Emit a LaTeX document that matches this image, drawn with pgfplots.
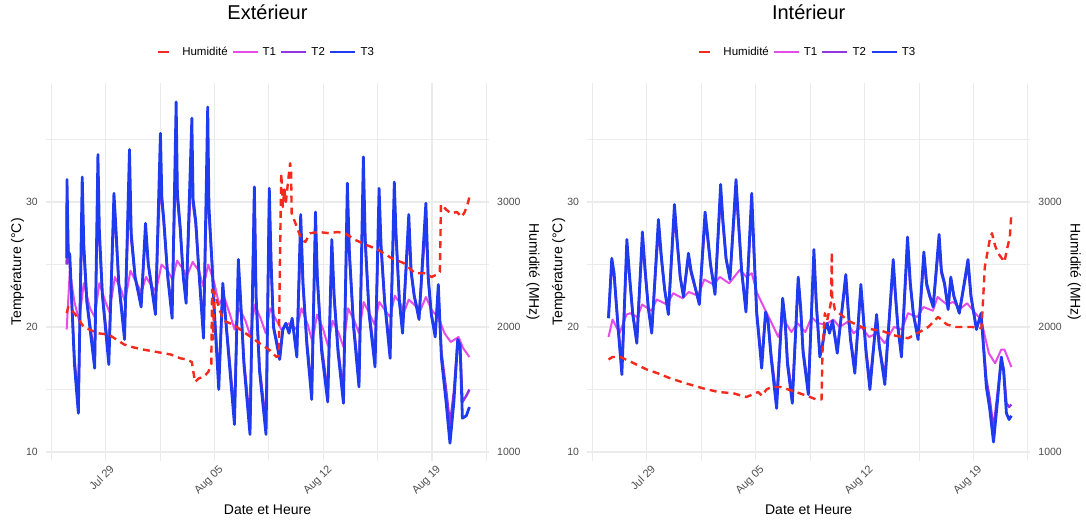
\documentclass[border=0pt]{standalone}
\usepackage{fontspec}
\setmainfont{Liberation Sans}
\usepackage{pgfplots}
\usepackage{pgfplotstable}
\pgfplotsset{compat=1.18}

\definecolor{hum}{HTML}{F42A1C}
\definecolor{tone}{HTML}{E64CE8}
\definecolor{ttwo}{HTML}{9234E0}
\definecolor{tthree}{HTML}{1F3BF0}
\definecolor{gridc}{HTML}{EBEBEB}
\definecolor{tickc}{HTML}{4D4D4D}

% ---- Extérieur ----
\pgfplotstableread{
d t
-2.5 19.8
-2.3 24.5
-2.0 22.0
-1.7 20.5
-1.4 23.5
-1.0 21.5
-0.7 20.8
-0.4 23.5
0.0 22.0
0.25 21.2
0.6 24.0
1.0 23.0
1.25 22.0
1.6 24.5
2.0 23.5
2.3 22.8
2.6 24.0
3.0 23.2
3.25 22.9
3.6 25.0
4.0 24.5
4.3 23.8
4.6 25.3
5.0 24.6
5.2 24.0
5.6 25.2
6.0 24.5
6.3 23.2
6.6 25.0
7.0 23.5
7.3 21.8
7.6 22.5
8.0 21.0
8.3 19.8
8.6 21.5
9.0 20.5
9.3 19.3
9.6 21.8
10.0 20.6
10.3 19.5
10.6 21.5
11.0 20.5
11.3 19.8
11.8 20.3
12.3 19.8
12.6 21.5
13.0 20.2
13.3 18.8
13.6 21.0
14.0 19.8
14.3 18.5
14.6 20.5
15.0 19.5
15.3 18.4
15.6 21.5
16.0 20.5
16.3 19.5
16.6 22.0
17.0 21.0
17.3 20.2
17.6 22.0
18.0 21.3
18.3 20.8
18.6 22.5
19.0 21.8
19.2 21.2
19.5 22.2
20.0 21.6
20.2 21.2
20.6 22.4
21.0 21.3
21.4 20.8
21.8 19.5
22.2 18.8
22.7 19.2
23.0 18.3
23.4 17.6
}\extA

\pgfplotstableread{
d t
-2.5 25.0
-2.48 30.5
-2.4 25.5
-2.3 25.0
-2.0 17.5
-1.75 14.0
-1.5 30.0
-1.4 26.0
-1.2 22.0
-0.7 17.5
-0.49 31.5
-0.4 27.0
-0.2 22.5
0.21 17.8
0.54 29.5
0.65 27.8
0.85 23.5
1.22 19.6
1.54 32.0
1.65 27.0
1.9 24.0
2.29 22.0
2.57 27.5
2.75 25.0
3.21 21.5
3.53 33.0
3.62 30.0
3.75 28.2
4.0 24.0
4.28 21.3
4.54 35.0
4.62 30.2
4.8 27.8
5.0 24.0
5.18 22.4
5.55 34.0
5.63 29.8
5.8 28.2
6.0 24.5
6.3 19.8
6.57 34.5
6.65 29.0
6.85 25.0
7.0 21.3
7.28 15.8
7.54 23.0
7.7 21.0
8.0 17.0
8.29 13.0
8.54 24.5
8.65 22.8
8.9 17.3
9.29 12.3
9.57 30.8
9.68 22.5
9.9 16.8
10.32 12.3
10.53 30.0
10.65 25.0
10.8 20.0
11.2 17.8
11.4 19.8
11.6 20.2
11.8 19.6
12.0 20.5
12.3 18.0
12.55 27.5
12.7 23.2
12.95 18.8
13.26 15.0
13.5 27.8
13.62 23.8
13.9 18.4
14.29 14.8
14.55 26.0
14.7 22.3
14.95 18.3
15.3 14.7
15.55 30.0
15.68 25.8
15.95 20.2
16.3 16.0
16.58 31.5
16.7 26.6
16.95 21.2
17.33 17.5
17.59 29.5
17.72 26.2
17.95 22.0
18.3 18.2
18.57 30.0
18.68 27.2
18.9 22.0
19.1 19.9
19.5 28.0
19.65 24.3
19.85 22.5
20.16 20.9
20.6 28.5
20.75 23.8
20.95 21.0
21.2 19.5
21.4 22.8
21.6 18.0
21.9 15.0
22.15 12.2
22.4 14.8
22.65 19.0
22.8 18.6
22.95 14.0
23.2 14.5
23.4 15.0
}\extB

\pgfplotstableread{
d t
-2.5 25.5
-2.48 31.8
-2.4 26.0
-2.3 25.8
-2.0 17.0
-1.75 13.1
-1.5 32.0
-1.4 26.6
-1.2 22.0
-0.7 16.7
-0.49 33.8
-0.4 27.8
-0.2 22.5
0.21 17.0
0.54 30.7
0.65 28.3
0.85 23.5
1.22 19.0
1.54 34.2
1.65 27.5
1.9 24.0
2.29 21.6
2.57 28.3
2.75 25.0
3.21 21.0
3.53 35.5
3.62 30.4
3.75 28.5
4.0 24.0
4.28 20.7
4.54 38.0
4.62 30.7
4.8 28.0
5.0 24.0
5.18 21.9
5.55 36.7
5.63 30.2
5.8 28.5
6.0 24.5
6.3 19.1
6.57 37.6
6.65 29.6
6.85 25.0
7.0 21.1
7.28 15.0
7.54 23.5
7.7 21.0
8.0 16.5
8.29 12.2
8.54 25.4
8.65 23.0
8.9 17.0
9.29 11.4
9.57 31.2
9.68 22.4
9.9 16.5
10.32 11.4
10.53 31.1
10.65 25.0
10.8 20.0
11.2 17.4
11.4 19.8
11.6 20.3
11.8 19.5
12.0 20.7
12.3 17.6
12.55 29.0
12.7 23.5
12.95 18.5
13.26 14.2
13.5 29.2
13.62 24.0
13.9 18.0
14.29 14.0
14.55 27.0
14.7 22.5
14.95 18.0
15.3 13.9
15.55 31.5
15.68 26.0
15.95 20.0
16.3 15.2
16.58 33.6
16.7 27.0
16.95 21.0
17.33 16.8
17.59 31.1
17.72 26.5
17.95 22.0
18.3 17.5
18.57 31.6
18.68 27.5
18.9 22.0
19.1 19.5
19.5 29.0
19.65 24.5
19.85 22.5
20.16 20.6
20.6 29.9
20.75 24.0
20.95 21.0
21.2 19.2
21.4 23.4
21.6 17.5
21.9 14.0
22.15 10.7
22.4 14.0
22.65 19.0
22.8 18.5
22.95 12.7
23.2 12.9
23.4 13.6
}\extC

\pgfplotstableread{
d h
-2.5 2110
-2.4 2160
-2.0 2110
-1.4 2000
-0.5 1950
0.2 1940
1.2 1860
1.7 1840
2.4 1820
3.3 1800
4.2 1780
4.8 1750
5.2 1740
5.55 1720
5.7 1600
5.75 1560
6.0 1590
6.3 1600
6.6 1640
6.8 1700
6.85 2300
6.9 1900
7.0 2280
7.3 2150
7.6 2050
8.2 2020
9.0 1950
9.9 1870
10.5 1820
11.0 1760
11.15 1770
11.2 2400
11.3 3230
11.4 2960
11.5 3100
11.6 3000
11.75 3180
11.87 3310
11.93 3250
11.97 2910
12.3 2800
12.6 2700
12.85 2680
13.15 2750
13.7 2760
14.4 2750
14.9 2760
15.4 2750
16.0 2700
16.7 2660
17.5 2620
18.4 2550
19.2 2510
19.9 2430
20.5 2430
20.97 2400
21.3 2420
21.5 2440
21.57 2980
21.9 2940
22.2 2910
22.6 2920
22.9 2880
23.1 2920
23.3 2990
23.4 3040
}\extH

% ---- Intérieur ----
\pgfplotstableread{
d t
-2.46 19.2
-2.2 20.6
-1.75 19.5
-1.3 21.0
-1.07 21.1
-0.6 20.8
-0.3 21.8
0.3 21.3
0.64 22.2
1.3 21.8
1.7 22.7
2.3 22.3
2.7 22.8
3.3 22.5
3.7 23.8
4.3 23.4
4.7 24.0
5.3 23.5
6.0 24.6
6.4 24.0
6.75 24.3
7.1 22.7
7.6 21.4
8.0 20.4
8.46 19.2
8.8 20.6
9.3 19.6
9.7 20.3
10.2 19.6
10.6 20.8
11.0 20.3
11.5 20.2
12.0 20.6
12.4 20.0
12.9 20.4
13.3 19.5
13.8 20.0
14.3 19.2
14.8 19.5
15.3 18.7
15.9 20.0
16.4 19.8
16.8 21.1
17.4 20.8
17.8 21.6
18.4 21.3
18.7 22.4
19.3 21.8
19.7 22.0
20.2 21.5
20.6 21.9
21.2 21.0
21.5 20.6
22.0 17.9
22.4 17.1
22.8 18.2
23.0 18.2
23.45 16.8
}\intA

\pgfplotstableread{
d t
-2.46 20.9
-2.25 25.0
-2.1 24.0
-1.85 20.2
-1.6 16.8
-1.28 26.3
-1.1 23.8
-0.9 21.1
-0.64 19.1
-0.28 26.9
-0.1 24.3
0.1 21.6
0.32 19.8
0.75 27.8
0.95 25.3
1.15 23.0
1.39 21.3
1.78 29.0
1.95 26.8
2.15 24.0
2.36 22.6
2.68 25.5
2.85 24.3
3.05 23.4
3.38 22.0
3.75 28.5
3.9 27.2
4.1 25.0
4.39 22.9
4.75 30.5
4.9 28.2
5.1 25.4
5.35 24.0
5.74 30.8
5.9 28.2
6.1 24.5
6.38 21.5
6.75 29.8
6.9 25.8
7.07 21.2
7.39 17.2
7.64 21.0
7.8 20.4
8.0 17.8
8.35 14.2
8.74 22.0
8.9 20.4
9.05 17.3
9.36 14.5
9.74 23.6
9.9 21.4
10.05 18.2
10.39 15.1
10.75 25.5
10.9 21.8
11.13 17.9
11.3 18.6
11.45 19.8
11.6 20.2
11.75 19.6
11.95 20.4
12.25 18.2
12.8 23.8
12.95 21.3
13.1 19.1
13.38 16.8
13.77 23.0
13.95 20.4
14.1 18.2
14.35 15.6
14.78 20.7
14.95 18.5
15.31 16.0
15.85 24.8
16.0 22.3
16.15 20.0
16.38 17.9
16.77 26.5
16.95 23.3
17.15 21.0
17.45 19.3
17.82 25.5
18.0 23.3
18.2 22.4
18.42 21.7
18.8 26.8
18.95 24.3
19.15 23.4
19.38 21.5
19.55 23.8
19.75 22.4
20.1 21.2
20.66 25.0
20.85 22.4
21.2 19.9
21.5 21.0
21.84 15.8
22.05 14.3
22.3 11.8
22.55 14.6
22.8 17.4
22.95 16.6
23.13 13.9
23.3 13.6
23.45 13.8
}\intB

\pgfplotstableread{
d t
-2.46 20.7
-2.25 25.5
-2.1 24.3
-1.85 20.0
-1.6 16.2
-1.28 27.0
-1.1 24.0
-0.9 21.0
-0.64 18.7
-0.28 27.6
-0.1 24.5
0.1 21.5
0.32 19.5
0.75 28.6
0.95 25.5
1.15 23.0
1.39 21.0
1.78 29.8
1.95 27.0
2.15 24.0
2.36 22.4
2.68 25.9
2.85 24.5
3.05 23.5
3.38 21.8
3.75 29.2
3.9 27.5
4.1 25.0
4.39 22.6
4.75 31.4
4.9 28.5
5.1 25.5
5.35 23.8
5.74 31.8
5.9 28.5
6.1 24.5
6.38 21.2
6.75 30.7
6.9 26.0
7.07 21.1
7.39 16.7
7.64 21.2
7.8 20.5
8.0 17.5
8.35 13.5
8.74 22.3
8.9 20.5
9.05 17.0
9.36 13.9
9.74 24.0
9.9 21.5
10.05 18.0
10.39 14.6
10.75 26.2
10.9 22.0
11.13 17.6
11.3 18.5
11.45 19.8
11.6 20.3
11.75 19.5
11.95 20.5
12.25 17.9
12.8 24.2
12.95 21.5
13.1 19.0
13.38 16.3
13.77 23.4
13.95 20.5
14.1 18.0
14.35 15.0
14.78 21.0
14.95 18.5
15.31 15.4
15.85 25.4
16.0 22.5
16.15 20.0
16.38 17.6
16.77 27.2
16.95 23.5
17.15 21.0
17.45 19.0
17.82 26.0
18.0 23.5
18.2 22.5
18.42 21.6
18.8 27.4
18.95 24.5
19.15 23.5
19.38 21.4
19.55 24.0
19.75 22.5
20.1 21.1
20.66 25.4
20.85 22.5
21.2 19.8
21.5 21.1
21.84 15.2
22.05 13.5
22.3 10.8
22.55 14.0
22.8 17.6
22.95 16.5
23.13 13.1
23.3 12.6
23.45 12.9
}\intC

\pgfplotstableread{
d h
-2.46 1740
-2.2 1760
-1.7 1760
-1.0 1720
0.0 1660
0.7 1630
1.5 1590
2.5 1550
3.6 1510
4.6 1480
5.57 1470
6.1 1450
6.4 1440
6.8 1460
7.17 1480
7.4 1450
7.7 1500
8.0 1520
8.6 1520
9.6 1480
10.5 1440
10.9 1420
11.24 1420
11.3 1800
11.45 2110
11.6 2050
11.85 2200
11.9 2600
11.93 2240
12.1 2140
12.95 2050
14.0 1990
15.1 1970
16.0 1930
16.8 1910
17.4 1950
18.1 2000
18.74 2080
19.3 2020
19.9 2000
20.9 2000
21.52 1990
21.6 2150
21.74 2480
22.06 2700
22.2 2750
22.4 2650
22.6 2590
23.0 2520
23.2 2640
23.35 2720
23.45 2910
}\intH

\pgfplotsset{
  base/.style={
    scale only axis, width=443pt, height=377.5pt,
    xmin=-3.83, xmax=24.66,
    axis line style={draw=none},
    major tick length=0pt, minor tick length=0pt,
    label style={font=\fontsize{14}{16}\selectfont},
  },
  temp/.style={
    base, ymin=9.3, ymax=39.5,
    xtick={0,7,14,21}, xticklabels={Jul 29,Aug 05,Aug 12,Aug 19},
    minor xtick={-3.5,3.5,10.5,17.5,24.5},
    ytick={10,20,30}, yticklabels={10,20,30},
    minor ytick={15,25,35},
    grid=both,
    major grid style={gridc, line width=1.3pt},
    minor grid style={gridc, line width=0.7pt},
    xticklabel style={rotate=45, anchor=north east, inner sep=0pt, yshift=-5pt, xshift=0pt,
      font=\fontsize{11}{13}\selectfont, text=tickc},
    yticklabel style={inner sep=0pt, xshift=-8pt, font=\fontsize{10.5}{12}\selectfont, text=tickc},
    xlabel={Date et Heure},
    xlabel style={at={(axis description cs:0.5,-0.131)}, anchor=center},
    ylabel={Température (°C)},
    ylabel style={at={(axis description cs:-0.0643,0.5)}, anchor=center},
    title style={at={(axis description cs:0.5,1.1728)}, anchor=center, font=\fontsize{20}{24}\selectfont},
    legend columns=4,
    legend style={at={(axis description cs:0.5,1.0828)}, anchor=center, draw=none, fill=none,
      font=\fontsize{11.5}{13}\selectfont,
      nodes={inner xsep=4pt, inner ysep=1pt},
      /tikz/every even column/.append style={column sep=0pt}},
    legend image code/.code={\draw[#1] (0pt,0pt) -- (25pt,0pt);},
  },
  humid/.style={
    base, ymin=930, ymax=3950,
    xtick=\empty,
    ytick={1000,2000,3000}, yticklabels={1000,2000,3000},
    yticklabel pos=right,
    yticklabel style={inner sep=0pt, xshift=8pt, font=\fontsize{10.5}{12}\selectfont, text=tickc},
    ylabel={Humidité (MHz)},
    ylabel style={at={(axis description cs:1.0993,0.5)}, anchor=center, rotate=180},
  },
  humline/.style={hum, line width=2.4pt, dash pattern=on 7pt off 5pt, line join=round},
  humkey/.style={legend image code/.code={\draw[hum, line width=2.4pt] (1pt,0pt) -- (12pt,0pt);}},
}

\begin{document}
\begin{tikzpicture}
\useasboundingbox (0,0) rectangle (1086pt,523pt);

% Extérieur
\begin{axis}[temp, at={(46pt,62.25pt)}, anchor=south west, title={Extérieur}]
\addlegendimage{humkey}
\addlegendentry{\hspace{8pt}Humidité}
\addplot[tone, line width=2pt, line join=round] table[x=d, y=t]{\extA};
\addlegendentry{T1}
\addplot[ttwo, line width=2.4pt, line join=round] table[x=d, y=t]{\extB};
\addlegendentry{T2}
\addplot[tthree, line width=2.8pt, line join=round] table[x=d, y=t]{\extC};
\addlegendentry{T3}
\end{axis}
\begin{axis}[humid, at={(46pt,62.25pt)}, anchor=south west]
\addplot[humline] table[x=d, y=h]{\extH};
\end{axis}

% Intérieur
\begin{axis}[temp, at={(587.2pt,62.25pt)}, anchor=south west, title={Intérieur}]
\addlegendimage{humkey}
\addlegendentry{\hspace{8pt}Humidité}
\addplot[tone, line width=2pt, line join=round] table[x=d, y=t]{\intA};
\addlegendentry{T1}
\addplot[ttwo, line width=2.4pt, line join=round] table[x=d, y=t]{\intB};
\addlegendentry{T2}
\addplot[tthree, line width=2.8pt, line join=round] table[x=d, y=t]{\intC};
\addlegendentry{T3}
\end{axis}
\begin{axis}[humid, at={(587.2pt,62.25pt)}, anchor=south west]
\addplot[humline] table[x=d, y=h]{\intH};
\end{axis}
\end{tikzpicture}
\end{document}
